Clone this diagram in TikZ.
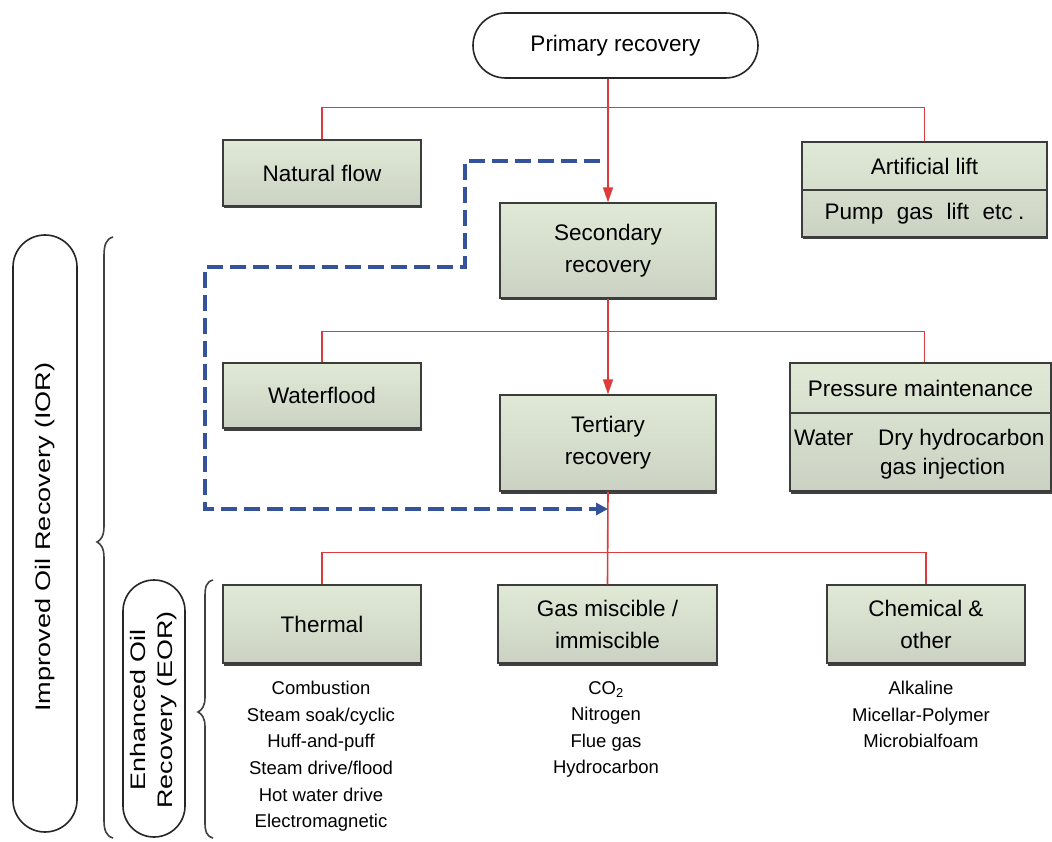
\documentclass[tikz,border=0pt]{standalone}
\usepackage{fontspec}
\setmainfont{Liberation Sans}
\usepackage{graphicx}
\usetikzlibrary{arrows.meta,shadows,calc}
\definecolor{gtop}{HTML}{E0E9D6}
\definecolor{gbot}{HTML}{CBD2C3}
\definecolor{boxline}{HTML}{3C3C3C}
\definecolor{redl}{HTML}{DD3C3C}
\definecolor{bluel}{HTML}{34539B}
\newcommand{\boxfont}{\fontsize{22.5}{32}\selectfont}
\newcommand{\listfont}{\fontsize{18.5}{26.6}\selectfont}
\newcommand{\vertfont}{\fontsize{21}{27}\selectfont}
\tikzset{
  gbox/.style={draw=boxline, line width=1.3pt, top color=gtop, bottom color=gbot,
    drop shadow={shadow xshift=1pt, shadow yshift=-2.5pt, fill=black!75, opacity=1},
    font=\boxfont, align=center, inner sep=0pt},
  redline/.style={draw=redl, line width=1.6pt},
  redarrow/.style={redline, -{Triangle[length=15pt,width=10pt]}},
  bluedash/.style={draw=bluel, line width=3.5pt, dash pattern=on 16pt off 7pt, -{Triangle[length=12pt,width=12pt]}},
  stad/.style={draw=black!85, line width=1.6pt},
  txt/.style={inner sep=0pt, align=center},
  bracestyle/.style={draw=black!75, line width=1.6pt}
}
\begin{document}
\begin{tikzpicture}[x=1pt,y=-1pt]
\useasboundingbox[fill=white] (0,0) rectangle (1052,842);
% primary
\node[stad, rounded corners=32.5pt, minimum width=285pt, minimum height=65pt, font=\boxfont, inner sep=0pt] (primary) at (615.5,45.5) {Primary recovery};
% first level
\node[gbox, minimum width=198pt, minimum height=66pt] (natural) at (322,173) {Natural flow};
\node[gbox, minimum width=245pt, minimum height=95pt] (alift) at (924.5,189.5) {};
\draw[boxline, line width=2pt] (alift.west |- 0,190) -- (alift.east |- 0,190);
\node[txt, font=\boxfont] (altitle) at (924.5,166) {Artificial lift};
\node[txt, font=\boxfont] (alsub) at (924.5,214) {Pump\hspace{0.6em}gas\hspace{0.6em}lift\hspace{0.6em}etc\hspace{0.25em}.};
\node[gbox, minimum width=216pt, minimum height=95pt] (secondary) at (608,250.5) {Secondary\\recovery};
% second level
\node[gbox, minimum width=198pt, minimum height=65pt] (waterflood) at (322,395.5) {Waterflood};
\node[gbox, minimum width=261pt, minimum height=128pt] (pressure) at (920.5,427) {};
\draw[boxline, line width=2pt] (pressure.west |- 0,413) -- (pressure.east |- 0,413);
\node[txt, font=\boxfont] (pmtitle) at (920.5,388) {Pressure maintenance};
\node[txt, font=\boxfont, anchor=mid west] (pmwater) at (794,443) {Water};
\node[txt, font=\boxfont, anchor=mid west] (pmdry) at (878,443) {Dry hydrocarbon};
\node[txt, font=\boxfont, anchor=mid west] (pmgas) at (880,472) {gas injection};
\node[gbox, minimum width=216pt, minimum height=96pt] (tertiary) at (608,443) {Tertiary\\recovery};
% third level
\node[gbox, minimum width=198pt, minimum height=78pt] (thermal) at (322,624) {Thermal};
\node[gbox, minimum width=219pt, minimum height=78pt] (gas) at (607.5,624) {Gas miscible /\\immiscible};
\node[gbox, minimum width=198pt, minimum height=78pt] (chemical) at (926,624) {Chemical \&\\other};
% lists
\node[txt, font=\listfont, anchor=north] (thlist) at (321,681) {Combustion\\Steam soak/cyclic\\Huff-and-puff\\Steam drive/flood\\Hot water drive\\Electromagnetic};
\node[txt, font=\listfont, anchor=north] (galist) at (606,681) {CO\textsubscript{2}\\Nitrogen\\Flue gas\\Hydrocarbon};
\node[txt, font=\listfont, anchor=north] (chlist) at (921,681) {Alkaline\\Micellar-Polymer\\Microbialfoam};
% red connectors
\draw[redarrow] (primary.south -| secondary.north) -- (secondary.north);
\draw[redline] (natural.north) -- ++(0,-32) -| (alift.north);
\draw[redarrow] (secondary.south) -- (tertiary.north);
\draw[redline] (waterflood.north) -- ++(0,-31) -| (pressure.north -| alift.north);
\draw[redline] (tertiary.south) -- (gas.north);
\draw[redline] (thermal.north) -- ++(0,-32) -| (chemical.north);
% blue dashed
\coordinate (dstart) at (600,161);
\coordinate (dend) at (608,509);
\draw[bluedash] (dstart) -- (465,161) -- (465,267) -- (205,267) -- (205,509) -- (dend);
% IOR
\draw[stad, rounded corners=32pt] (13,235) rectangle (77,832);
\node[txt, rotate=90, font=\vertfont] (ior) at (45,537) {\scalebox{1.29}[1]{Improved Oil Recovery (IOR)}};
\draw[bracestyle] (113,237) .. controls (106,239) and (104,245) .. (104,256) -- (104,526) .. controls (104,536) and (101,540) .. (97,542) .. controls (101,544) and (104,548) .. (104,558) -- (104,820) .. controls (104,830) and (106,836) .. (113,838);
% EOR
\draw[stad, rounded corners=31pt] (123,580) rectangle (185,837);
\node[txt, rotate=90, font=\vertfont] (eor) at (154,710) {\scalebox{1.28}[1]{\begin{tabular}{@{}c@{}}Enhanced Oil\\Recovery (EOR)\end{tabular}}};
\draw[bracestyle] (213,580) .. controls (206,582) and (205,587) .. (205,597) -- (205,697) .. controls (205,706) and (202,710) .. (198,712) .. controls (202,714) and (205,718) .. (205,727) -- (205,822) .. controls (205,831) and (206,836) .. (213,838);
\end{tikzpicture}
\end{document}
